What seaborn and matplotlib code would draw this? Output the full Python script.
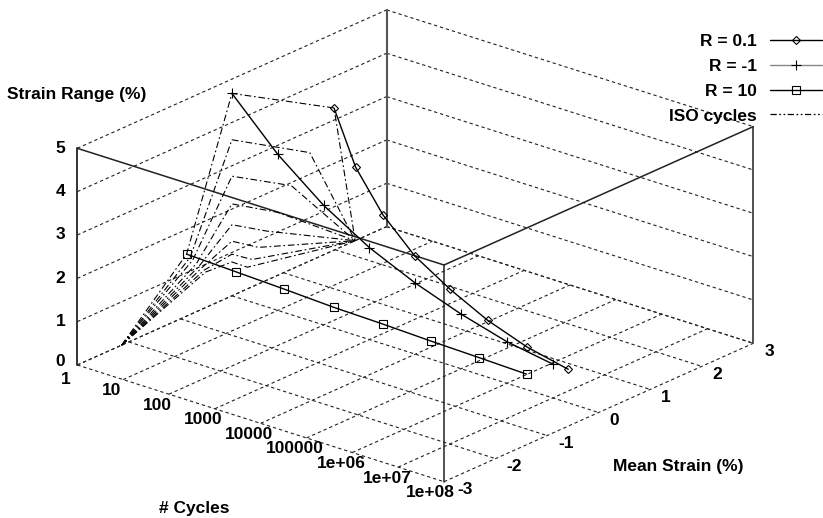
import numpy as np
import pandas as pd
import matplotlib
matplotlib.use("Agg")
import matplotlib.pyplot as plt
import seaborn as sns

# ---------- data ----------
log_cycles = [0, 1, 2, 3, 4, 5, 6, 7]
r01_mean = [1.98, 1.51, 1.15, 0.88, 0.68, 0.515, 0.39, 0.30]
r01_range = [3.28, 2.50, 1.93, 1.46, 1.13, 0.843, 0.63, 0.50]
rm1_mean = [0, 0, 0, 0, 0, 0, 0, 0]
rm1_range = [4.67, 3.60, 2.76, 2.12, 1.64, 1.26, 0.96, 0.78]
r10_mean = [-0.88, -0.81, -0.76, -0.69, -0.63, -0.59, -0.54, -0.51]
r10_range = [1.43, 1.32, 1.23, 1.11, 1.03, 0.954, 0.88, 0.82]
iso_start_mean = -2.14
iso_end_mean = 2.39
cycle_ticks = ["1", "10", "100", "1000", "10000", "100000", "1e+06", "1e+07", "1e+08"]
mean_ticks = [-3, -2, -1, 0, 1, 2, 3]
range_ticks = [0, 1, 2, 3, 4, 5]

# ---------- gnuplot-like orthographic projection ----------
O = np.array([77.3, 365.0])
NV = (np.array([444.0, 481.7]) - O) / 8.0
MV = (np.array([753.3, 343.3]) - np.array([444.0, 481.7])) / 6.0
ZV = np.array([0.0, -216.7 / 5.0])


def proj(n, m, z):
    n, m, z = np.asarray(n, float), np.asarray(m, float), np.asarray(z, float)
    x = O[0] + n * NV[0] + (m + 3) * MV[0] + z * ZV[0]
    y = O[1] + n * NV[1] + (m + 3) * MV[1] + z * ZV[1]
    return x, y


def frame(df_n, df_m, df_z):
    x, y = proj(df_n, df_m, df_z)
    return pd.DataFrame({"px": x, "py": y})


sns.set_theme(style="white")
plt.rcParams["font.family"] = ["Liberation Sans", "DejaVu Sans"]
plt.rcParams["font.weight"] = "bold"

fig = plt.figure(figsize=(8.23, 5.18), dpi=100)
ax = fig.add_axes([0, 0, 1, 1])
ax.set_xlim(0, 823)
ax.set_ylim(518, 0)
ax.axis("off")

GRID = dict(color="#222222", lw=0.8, ls=(0, (3, 2.6)), zorder=1)
SOLID = dict(color="#222222", lw=1.1, zorder=2)


def seg(a, b, **kw):
    x, y = proj([a[0], b[0]], [a[1], b[1]], [a[2], b[2]])
    ax.plot(x, y, **kw)


# base grid
for n in range(9):
    seg((n, -3, 0), (n, 3, 0), **GRID)
for m in mean_ticks:
    seg((0, m, 0), (8, m, 0), **GRID)
# back walls
for z in range_ticks:
    seg((0, -3, z), (0, 3, z), **GRID)
    seg((0, 3, z), (8, 3, z), **GRID)

# solid frame
seg((0, -3, 0), (0, -3, 5), color="#222222", lw=1.3, zorder=2)
seg((8, -3, 0), (8, -3, 5), **SOLID)
seg((8, 3, 0), (8, 3, 5), **SOLID)
seg((0, 3, 0), (0, 3, 5), color="#555555", lw=1.5, zorder=2)
seg((0, -3, 5), (8, -3, 5), **SOLID)
seg((8, -3, 5), (8, 3, 5), **SOLID)

# measured series
LINE = dict(color="black", lw=1.0, sort=False, estimator=None, zorder=4,
            mec="black", mfc="none", mew=0.8)
sns.lineplot(data=frame(log_cycles, r01_mean, r01_range), x="px", y="py", ax=ax,
             marker="D", ms=4.4, label="R = 0.1", **LINE)
sns.lineplot(data=frame(log_cycles, rm1_mean, rm1_range), x="px", y="py", ax=ax,
             marker="+", ms=7.5, label="R = -1", **LINE)
sns.lineplot(data=frame(log_cycles, r10_mean, r10_range), x="px", y="py", ax=ax,
             marker="s", ms=5.2, label="R = 10", **LINE)

# ISO cycle curves in the N=1 wall
iso_parts = []
for i in range(len(log_cycles)):
    ms = [iso_start_mean, r10_mean[i], rm1_mean[i], r01_mean[i], iso_end_mean]
    zs = [0, r10_range[i], rm1_range[i], r01_range[i], 0]
    part = frame([0] * 5, ms, zs)
    part["cycle"] = i
    iso_parts.append(part)
iso = pd.concat(iso_parts, ignore_index=True)
sns.lineplot(data=iso, x="px", y="py", units="cycle", estimator=None, sort=False,
             ax=ax, color="black", lw=0.8, ls=(0, (6, 2.5, 1.5, 2.5)), zorder=3)
# a proxy sharing the style for the legend
ax.plot([], [], color="black", lw=0.9, ls=(0, (5, 2, 1.4, 2, 1.4, 2)), label="ISO cycles")

FS = 12.5
for n, lab in enumerate(cycle_ticks):
    x, y = proj(n, -3, 0)
    dx = -13.5 if n == 8 else -11.3
    dy = 15 if n == 0 else 11
    ax.text(x + dx, y + dy, lab, ha="center", va="center", fontsize=FS, color="black")
for m in mean_ticks:
    x, y = proj(8, m, 0)
    ax.text(x + (13 if m == -3 else 11), y + 8, str(m), ha="left", va="center",
            fontsize=FS, color="black")
for z in range_ticks:
    x, y = proj(0, -3, z)
    ax.text(x - 12, y - (3 if z == 0 else 0), str(z), ha="right", va="center",
            fontsize=FS, color="black")

ax.text(7, 95, "Strain Range (%)", ha="left", va="center", fontsize=FS, color="black")
ax.text(194, 508, "# Cycles", ha="center", va="center", fontsize=FS, color="black")
ax.text(678, 467, "Mean Strain (%)", ha="center", va="center", fontsize=FS, color="black")

handles, labels = ax.get_legend_handles_labels()
leg = ax.legend(handles, labels, loc="upper right", bbox_to_anchor=(822 / 823, 1 - 34 / 518),
                bbox_transform=fig.transFigure, frameon=False, markerfirst=False,
                fontsize=FS, handlelength=3.0, labelspacing=0.555, handletextpad=0.75,
                borderpad=0, borderaxespad=0, labelcolor="black")
leg.get_lines()[1].set_color("#888888")

fig.savefig("out.png", dpi=100)
